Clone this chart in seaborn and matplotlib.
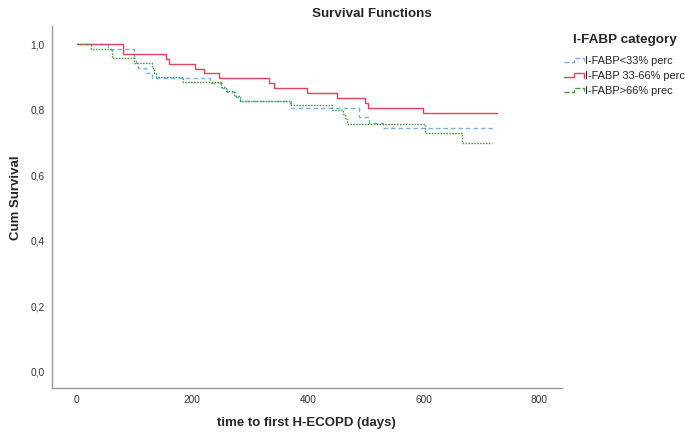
import numpy as np
import pandas as pd
import matplotlib
matplotlib.use("Agg")
import matplotlib.pyplot as plt
import seaborn as sns
from matplotlib.legend_handler import HandlerBase
from matplotlib.lines import Line2D
from matplotlib.ticker import FuncFormatter

# Kaplan-Meier step estimates per I-FABP group (time in days, cumulative survival)
groups = ["I-FABP<33% perc", "I-FABP 33-66% perc", "I-FABP>66% prec"]

low_days = [0, 54, 99, 102, 106, 120, 130, 231, 252, 260, 276, 283, 370, 489, 506, 530, 723]
low_surv = [1.0, 0.986, 0.957, 0.942, 0.927, 0.912, 0.897, 0.883, 0.868, 0.854, 0.840,
            0.826, 0.805, 0.777, 0.760, 0.745, 0.745]

mid_days = [0, 80, 155, 159, 204, 220, 246, 333, 342, 398, 450, 498, 504, 599, 727]
mid_surv = [1.0, 0.971, 0.955, 0.941, 0.926, 0.911, 0.896, 0.881, 0.866, 0.851, 0.836,
            0.821, 0.806, 0.791, 0.791]

high_days = [0, 25, 62, 99, 131, 134, 138, 184, 250, 259, 272, 283, 369, 441, 461, 464,
             468, 602, 666, 718]
high_surv = [1.0, 0.986, 0.957, 0.943, 0.929, 0.914, 0.900, 0.886, 0.871, 0.857, 0.843,
             0.828, 0.814, 0.800, 0.786, 0.771, 0.757, 0.728, 0.699, 0.699]

x_ticks = [0, 200, 400, 600, 800]
y_ticks = [0.0, 0.2, 0.4, 0.6, 0.8, 1.0]

colors = {groups[0]: "#7fb0e0", groups[1]: "#e2425f", groups[2]: "#3f9b3f"}
dashes = {groups[0]: (3.2, 2.2), groups[1]: "", groups[2]: (1.1, 1.0)}

frames = []
for g, d, s in zip(groups, [low_days, mid_days, high_days], [low_surv, mid_surv, high_surv]):
    frames.append(pd.DataFrame({"days": d, "surv": s, "group": g, "order": range(len(d))}))
df = pd.concat(frames, ignore_index=True)

sns.set_style("white")
plt.rcParams["font.family"] = ["Liberation Sans", "DejaVu Sans"]

W, H = 689, 433
fig = plt.figure(figsize=(W / 100, H / 100), dpi=100)
ax_left, ax_right, ax_top, ax_bottom = 51.7, 561.7, 25.7, 388
ax = fig.add_axes([ax_left / W, 1 - ax_bottom / H,
                   (ax_right - ax_left) / W, (ax_bottom - ax_top) / H])

sns.lineplot(data=df, x="days", y="surv", hue="group", style="group",
             hue_order=groups, style_order=groups, palette=colors, dashes=dashes,
             estimator=None, sort=False, drawstyle="steps-post", linewidth=1.0,
             legend=False, ax=ax)

ax.set_xlim(-43, 839)
ax.set_ylim(-0.05, 1.057)
ax.set_xticks(x_ticks)
ax.set_yticks(y_ticks)
ax.yaxis.set_major_formatter(FuncFormatter(lambda v, p: f"{v:.1f}".replace(".", ",")))
ax.tick_params(length=0, labelsize=7.3, labelcolor="#333333")
ax.tick_params(axis="x", pad=5)
ax.tick_params(axis="y", pad=5)
for side in ["top", "right"]:
    ax.spines[side].set_visible(False)
for side in ["left", "bottom"]:
    ax.spines[side].set_color("#999999")
    ax.spines[side].set_linewidth(1.0)

# axis titles placed by their centres
ax_w, ax_h = ax_right - ax_left, ax_bottom - ax_top
ax.set_xlabel("time to first H-ECOPD (days)", fontsize=9.5, fontweight="bold", va="center")
ax.xaxis.set_label_coords(0.5, (ax_bottom - 423) / ax_h)
ax.set_ylabel("Cum Survival", fontsize=9.5, fontweight="bold", va="center")
ax.yaxis.set_label_coords((16 - ax_left) / ax_w, (ax_bottom - 198) / ax_h)

fig.text(372 / W, 1 - 14 / H, "Survival Functions", ha="center", va="center",
         fontsize=9.6, fontweight="bold")


class StepHandler(HandlerBase):
    """Legend key drawn as a short survival step ending in a censor tick."""

    def create_artists(self, legend, orig_handle, xdescent, ydescent, width, height,
                       fontsize, trans):
        x0, y0 = -xdescent, -ydescent
        xs = [x0, x0 + 0.5 * width, x0 + 0.5 * width, x0 + width, x0 + width]
        ys = [y0 + 0.25 * height, y0 + 0.25 * height, y0 + 0.8 * height,
              y0 + 0.8 * height, y0 + 0.15 * height]
        line = Line2D(xs, ys, color=orig_handle.get_color(),
                      linestyle=orig_handle.get_linestyle(),
                      linewidth=orig_handle.get_linewidth())
        line.set_transform(trans)
        return [line]


handles = []
for g in groups:
    h = Line2D([], [], color=colors[g], linewidth=1.0)
    if dashes[g]:
        h.set_dashes(dashes[g])
    handles.append(h)

fig.text(625 / W, 1 - 40 / H, "I-FABP category", ha="center", va="center",
         fontsize=9.7, fontweight="bold")
leg = fig.legend(handles, groups, loc="upper left",
                 bbox_to_anchor=(564 / W, 1 - 56 / H), frameon=False,
                 fontsize=7.9, handler_map={Line2D: StepHandler()}, handlelength=1.8,
                 handletextpad=0.1, labelspacing=0.45, borderaxespad=0,
                 borderpad=0)

fig.savefig("out.png", dpi=100)
